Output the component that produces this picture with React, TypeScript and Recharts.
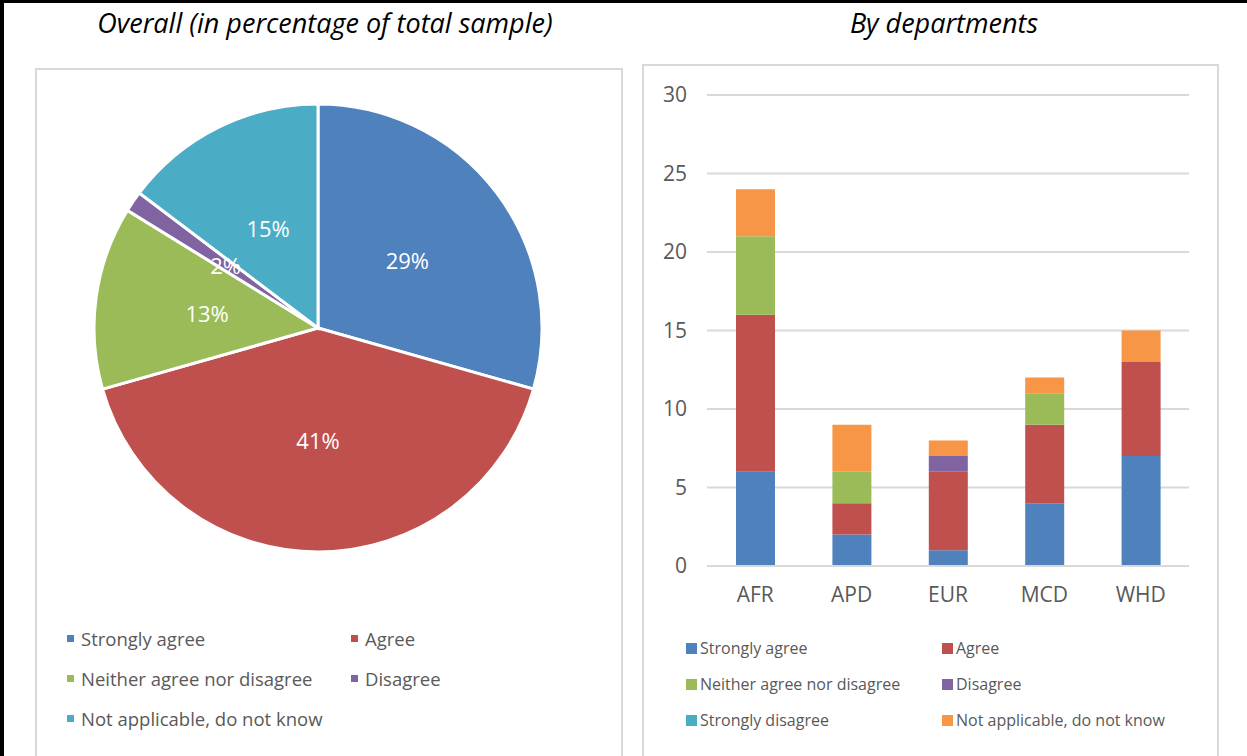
import React from "react";
import { PieChart, Pie, Cell, BarChart, Bar, XAxis, YAxis, CartesianGrid } from "recharts";

// overall shares (percent of total sample)
const pieNames = ["Strongly agree", "Agree", "Neither agree nor disagree", "Disagree", "Not applicable, do not know"];
const pieValues = [29.4, 41.2, 13.2, 1.5, 14.7];
const pieColors = ["#4F81BD", "#C0504D", "#9BBB59", "#8064A2", "#4BACC6"];

// counts by department
const departments = ["AFR", "APD", "EUR", "MCD", "WHD"];
const stronglyAgree = [6, 2, 1, 4, 7];
const agree = [10, 2, 5, 5, 6];
const neither = [5, 2, 0, 2, 0];
const disagree = [0, 0, 1, 0, 0];
const stronglyDisagree = [0, 0, 0, 0, 0];
const notApplicable = [3, 3, 1, 1, 2];
const yTicks = [0, 5, 10, 15, 20, 25, 30];

const series = [
  { key: "sa", name: "Strongly agree", values: stronglyAgree, color: "#4F81BD" },
  { key: "ag", name: "Agree", values: agree, color: "#C0504D" },
  { key: "ne", name: "Neither agree nor disagree", values: neither, color: "#9BBB59" },
  { key: "di", name: "Disagree", values: disagree, color: "#8064A2" },
  { key: "sd", name: "Strongly disagree", values: stronglyDisagree, color: "#4BACC6" },
  { key: "na", name: "Not applicable, do not know", values: notApplicable, color: "#F79646" },
];

const pieData = pieNames.map((name, i) => ({ name, value: pieValues[i] }));
const barData = departments.map((dept, i) => {
  const row: Record<string, string | number> = { dept };
  series.forEach((s) => (row[s.key] = s.values[i]));
  return row;
});

const FONT = "'Open Sans', sans-serif";
const GRAY = "#595959";

const RADIAN = Math.PI / 180;
const renderPieLabel = (props: any) => {
  const { cx, cy, midAngle, outerRadius, value } = props;
  const r = outerRadius * 0.5;
  const x = cx + r * Math.cos(-midAngle * RADIAN);
  const y = cy + r * Math.sin(-midAngle * RADIAN);
  return (
    <text x={x} y={y} fill="#fff" fontSize={22} fontFamily={FONT} textAnchor="middle" dominantBaseline="central">
      {Math.round(value)}%
    </text>
  );
};

function Box({ left, top, width, height, children }: any) {
  return (
    <div
      style={{
        position: "absolute",
        left,
        top,
        width,
        height,
        border: "2px solid #d9d9d9",
        boxSizing: "border-box",
        background: "#fff",
      }}
    >
      {children}
    </div>
  );
}

export default function App() {
  return (
    <div
      style={{
        position: "absolute",
        left: 0,
        top: 0,
        width: 1247,
        height: 756,
        background: "#fff",
        overflow: "hidden",
        fontFamily: FONT,
        borderLeft: "4px solid #000",
        borderTop: "3px solid #000",
        boxSizing: "border-box",
      }}
    >
      <div style={{ position: "absolute", left: 21, width: 600, top: 1, textAlign: "center", fontStyle: "italic", fontSize: 27 }}>
        Overall (in percentage of total sample)
      </div>
      <div style={{ position: "absolute", left: 640, width: 600, top: 1, textAlign: "center", fontStyle: "italic", fontSize: 27 }}>
        By departments
      </div>

      <Box left={31} top={65} width={588} height={700}>
        <PieChart width={584} height={690}>
          <Pie
            data={pieData}
            dataKey="value"
            cx={276}
            cy={253}
            outerRadius={224}
            startAngle={90}
            endAngle={-270}
            stroke="#fff"
            strokeWidth={3}
            label={renderPieLabel}
            labelLine={false}
            isAnimationActive={false}
          >
            {pieData.map((d, i) => (
              <Cell key={d.name} fill={pieColors[i]} />
            ))}
          </Pie>
        </PieChart>
        <div
          style={{
            position: "absolute",
            left: 30,
            top: 555,
            display: "grid",
            gridTemplateColumns: "284px 200px",
            rowGap: 14,
            fontSize: 18.5,
            color: GRAY,
          }}
        >
          {pieNames.map((name, i) => (
            <div key={name} style={{ display: "flex", alignItems: "center", height: 26 }}>
              <span style={{ width: 7, height: 7, background: pieColors[i], marginRight: 7, display: "inline-block" }} />
              {name}
            </div>
          ))}
        </div>
      </Box>

      <Box left={638} top={61} width={577} height={700}>
        <BarChart width={573} height={600} data={barData} margin={{ top: 29, right: 28, left: 0, bottom: 0 }}>
          <CartesianGrid vertical={false} stroke="#d9d9d9" strokeWidth={2} />
          <XAxis
            dataKey="dept"
            axisLine={{ stroke: "#d9d9d9", strokeWidth: 2 }}
            tickLine={false}
            tickMargin={15}
            height={100}
            tick={{ fill: GRAY, fontSize: 21, fontFamily: FONT }}
          />
          <YAxis
            domain={[0, 30]}
            ticks={yTicks}
            width={63}
            axisLine={false}
            tickLine={false}
            tickMargin={14}
            tick={{ fill: GRAY, fontSize: 21, fontFamily: FONT }}
          />
          {series.map((s) => (
            <Bar key={s.key} dataKey={s.key} name={s.name} stackId="a" fill={s.color} barSize={39} isAnimationActive={false} />
          ))}
        </BarChart>
        <div
          style={{
            position: "absolute",
            left: 42,
            top: 569,
            display: "grid",
            gridTemplateColumns: "256px 240px",
            rowGap: 10,
            fontSize: 16,
            color: GRAY,
          }}
        >
          {series.map((s) => (
            <div key={s.key} style={{ display: "flex", alignItems: "center", height: 26 }}>
              <span style={{ width: 11, height: 11, background: s.color, marginRight: 3, display: "inline-block" }} />
              {s.name}
            </div>
          ))}
        </div>
      </Box>
    </div>
  );
}
